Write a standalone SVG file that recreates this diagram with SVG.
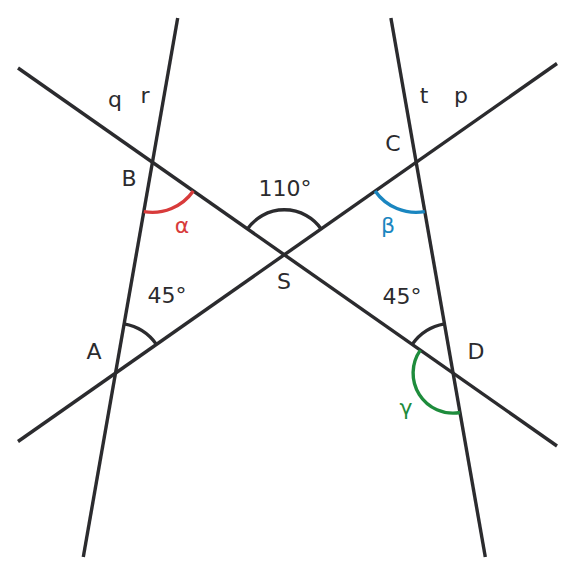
<svg xmlns="http://www.w3.org/2000/svg" width="576" height="576" viewBox="0 0 576 576">
<style>
.ln{stroke:#2b2b2e;stroke-width:3.4;fill:none;stroke-linecap:butt}
.arc{stroke-width:3.4;fill:none}
.k{stroke:#2b2b2e}
.red{stroke:#d83b3b}
.blue{stroke:#1a86c0}
.green{stroke:#1e8c3c}
text{font-family:"DejaVu Sans","Liberation Sans",sans-serif;font-size:22px;fill:#2b2b2e;text-anchor:middle}
.tr{fill:#d83b3b}
.tb{fill:#1a86c0}
.tg{fill:#1e8c3c}
</style>
<rect width="576" height="576" fill="#ffffff"/>
<g id="connectors">
<line id="line-r" class="ln" x1="177.7" y1="18" x2="83.3" y2="557"/>
<line id="line-t" class="ln" x1="390.9" y1="18" x2="485.3" y2="557"/>
<line id="line-q" class="ln" x1="18" y1="68" x2="557" y2="446"/>
<line id="line-p" class="ln" x1="18" y1="441.5" x2="557" y2="63.5"/>
</g>
<g id="angles">
<path id="arc-alpha" class="arc red" d="M193.3,191.0 A50,50 0 0 1 143.8,211.6"/>
<path id="arc-S" class="arc k" d="M247.46,228.96 A45,45 0 0 1 321.14,228.96"/>
<path id="arc-beta" class="arc blue" d="M375.1,191.0 A50,50 0 0 0 424.8,211.6"/>
<path id="arc-A" class="arc k" d="M124.1,323.85 A50,50 0 0 1 156.43,344.39"/>
<path id="arc-D" class="arc k" d="M444.5,323.85 A50,50 0 0 0 412.17,344.39"/>
<path id="arc-gamma" class="arc green" d="M460.0,412.5 A40,40 0 0 1 420.35,350.13"/>
</g>
<g id="node-A"><text x="94" y="359">A</text></g>
<g id="node-B"><text x="129" y="186">B</text></g>
<g id="node-C"><text x="393" y="151">C</text></g>
<g id="node-D"><text x="476" y="359">D</text></g>
<g id="node-S"><text x="284" y="289">S</text></g>
<g id="labels">
<text x="115" y="107">q</text>
<text x="145" y="103">r</text>
<text x="424" y="103">t</text>
<text x="461" y="103">p</text>
<text x="285" y="196">110°</text>
<text x="167" y="303">45°</text>
<text x="402" y="304">45°</text>
<text class="tr" x="182" y="233">α</text>
<text class="tb" x="388" y="233">β</text>
<text class="tg" x="406" y="415">γ</text>
</g>
</svg>
